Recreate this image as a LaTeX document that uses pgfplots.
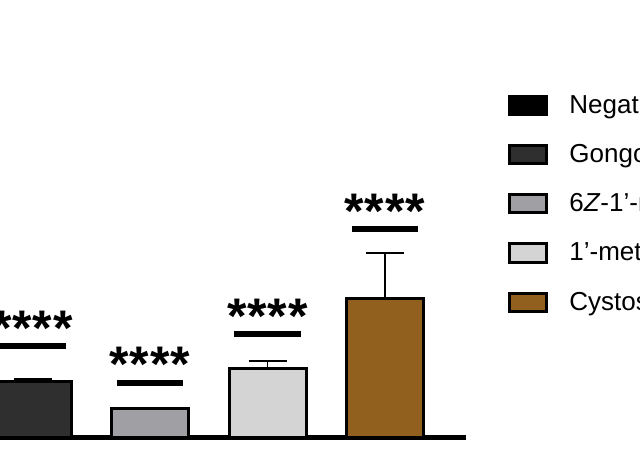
\documentclass[border=0pt]{standalone}
\usepackage{pgfplots}
\pgfplotsset{compat=1.18}
\usepackage{fontspec}
\setmainfont{Liberation Sans}
\definecolor{cNeg}{RGB}{0,0,0}
\definecolor{cGon}{RGB}{47,47,47}
\definecolor{cSix}{RGB}{160,160,164}
\definecolor{cOne}{RGB}{212,212,212}
\definecolor{cCys}{RGB}{146,96,30}
\newcommand{\stars}{*\kern0.5bp*\kern0.5bp*\kern0.5bp*}
\begin{document}
\begin{tikzpicture}
\useasboundingbox (0,0) rectangle (320bp,231bp);
\clip (0,0) rectangle (320bp,231bp);
\begin{axis}[
    anchor=origin, at={(-42.5bp,12bp)},
    x=58.75bp, y=1bp,
    xmin=-0.8, xmax=4.69, ymin=0, ymax=160,
    axis x line*=bottom, axis y line=none,
    x axis line style={line width=2.5bp},
    xtick=\empty, ytick=\empty,
    clip=false,
    ybar, bar width=38.5bp, bar shift=0pt,
    legend image code/.code={\draw[#1, line width=1.5bp] (0bp,-4.5bp) rectangle (18.5bp,4.5bp);},
    legend style={at={(axis description cs:1.065,1.075)}, anchor=north west,
        draw=none, inner sep=0pt, font=\fontsize{13bp}{15bp}\selectfont,
        nodes={inner sep=0pt, anchor=west},
        /tikz/row sep=13.7bp, /tikz/column sep=10.5bp},
    legend cell align={left},
    every axis plot/.append style={draw=black, line width=1.5bp,
        /pgfplots/error bars/y dir=plus, /pgfplots/error bars/y explicit,
        /pgfplots/error bars/error bar style={line width=0.75bp, black},
        /pgfplots/error bars/error mark options={rotate=90, black, line width=0.75bp, mark size=9.5bp}},
]
\addplot[fill=cNeg] coordinates {(0,0) +- (0,0)};
\addplot[fill=cGon] coordinates {(1,28) +- (0,1.5)};
\addplot[fill=cSix] coordinates {(2,14.5) +- (0,0.5)};
\addplot[fill=cOne] coordinates {(3,34.5) +- (0,4)};
\addplot[fill=cCys] coordinates {(4,69.5) +- (0,23)};
\legend{Negative control, Gongolarone B, 6\textit{Z}-1’-methoxyamentadione, 1’-methoxyamentadione, Cystoseira extract}

% significance bars
\draw[line width=2.6bp] (axis cs:0.719,46) -- (axis cs:1.281,46);
\draw[line width=2.6bp] (axis cs:1.719,27.5) -- (axis cs:2.281,27.5);
\draw[line width=2.6bp] (axis cs:2.719,52) -- (axis cs:3.281,52);
\draw[line width=2.6bp] (axis cs:3.719,104.5) -- (axis cs:4.281,104.5);
\node[anchor=base, font=\fontsize{25bp}{25bp}\bfseries] at (axis cs:1,46) {\stars};
\node[anchor=base, font=\fontsize{25bp}{25bp}\bfseries] at (axis cs:2,28) {\stars};
\node[anchor=base, font=\fontsize{25bp}{25bp}\bfseries] at (axis cs:3,52) {\stars};
\node[anchor=base, font=\fontsize{25bp}{25bp}\bfseries] at (axis cs:4,104.75) {\stars};
\end{axis}
\end{tikzpicture}
\end{document}
